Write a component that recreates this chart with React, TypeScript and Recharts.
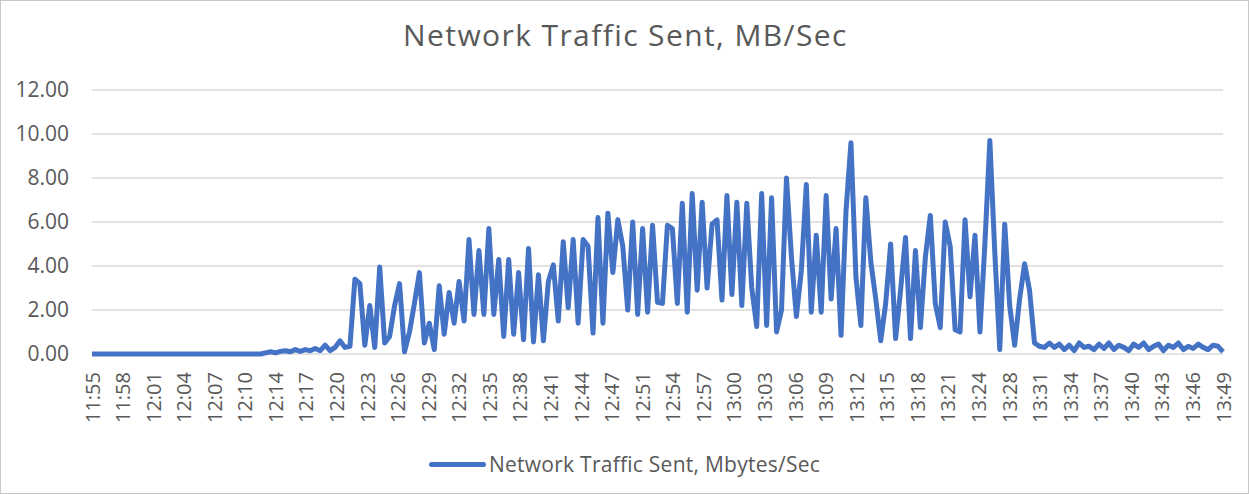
import React from 'react';
import { LineChart, Line, XAxis, YAxis, CartesianGrid, Legend } from 'recharts';

// category labels shown under the axis (38 of them, evenly spread over the samples)
const timeLabels = [
    '11:55', '11:58', '12:01', '12:04', '12:07', '12:10', '12:14', '12:17', '12:20', '12:23',
    '12:26', '12:29', '12:32', '12:35', '12:38', '12:41', '12:44', '12:47', '12:51', '12:54',
    '12:57', '13:00', '13:03', '13:06', '13:09', '13:12', '13:15', '13:18', '13:21', '13:24',
    '13:28', '13:31', '13:34', '13:37', '13:40', '13:43', '13:46', '13:49',
];

// MB/sec
const idleValues = [
    0, 0, 0, 0, 0, 0, 0, 0, 0, 0, 0, 0, 0, 0, 0, 0, 0, 0, 0, 0,
    0, 0, 0, 0, 0, 0, 0, 0, 0, 0, 0, 0, 0, 0, 0,
];
const rampValues = [
    0.05, 0.1, 0.05, 0.12, 0.15, 0.1, 0.2, 0.12, 0.2, 0.15, 0.25, 0.15, 0.4, 0.15, 0.3, 0.6, 0.3, 0.35,
    3.4, 3.2, 0.4, 2.2, 0.3, 3.95, 0.5, 0.8, 2.2, 3.2, 0.1, 1.0, 2.3, 3.7, 0.5, 1.4, 0.2, 3.1,
    0.9, 2.8, 1.4, 3.3, 1.5, 5.2, 1.8, 4.7, 1.8, 5.7, 1.8, 4.3, 0.8, 4.3, 0.9, 3.7, 0.65, 4.8,
    0.55, 3.6, 0.6, 3.3, 4.05, 1.5, 5.1, 2.1, 5.2, 1.4, 5.2, 4.9, 0.95, 6.2, 1.4, 6.4, 3.7, 6.1,
    4.9, 2.0, 6.0, 1.8, 5.7, 1.9, 5.85, 2.35, 2.3, 5.85, 5.7, 2.3,
];
const peakValues = [
    6.85, 1.9, 7.3, 2.9, 6.9, 3.0, 5.9, 6.1, 2.45, 7.2, 2.7, 6.9, 2.2, 6.85, 3.0, 1.25, 7.3, 1.3,
    7.1, 1.0, 2.0, 8.0, 4.4, 1.7, 3.8, 7.7, 1.9, 5.4, 1.9, 7.2, 2.5, 5.7, 0.85, 6.5, 9.6, 3.5,
    1.3, 7.1, 4.2, 2.5, 0.6, 2.3, 5.0, 0.7, 2.9, 5.3, 0.7, 4.7, 1.2, 4.4, 6.3, 2.3, 1.2, 6.0,
    4.9, 1.1, 1.0, 6.1, 2.6, 5.4, 1.0, 5.0, 9.7, 4.6, 0.2, 5.9, 2.2, 0.4, 2.5, 4.1, 2.9, 0.5,
    0.35, 0.3,
];
const tailValues = [
    0.5, 0.3, 0.45, 0.2, 0.4, 0.15, 0.5, 0.3, 0.35, 0.2, 0.45, 0.25, 0.5, 0.2, 0.4, 0.3, 0.15, 0.45,
    0.3, 0.5, 0.2, 0.35, 0.45, 0.15, 0.4, 0.3, 0.5, 0.2, 0.35, 0.25, 0.45, 0.3, 0.2, 0.4, 0.35, 0.1,
];
const values = [...idleValues, ...rampValues, ...peakValues, ...tailValues];

const yTicks = [0, 2, 4, 6, 8, 10, 12];

const data = values.map((v, i) => ({ i, sent: v }));
const lastIndex = values.length - 1;
const step = lastIndex / (timeLabels.length - 1);
const xTicks = timeLabels.map((_, k) => k * step);

const font = '"Open Sans", sans-serif';
const textColor = '#595959';

const TimeTick = (props: any) => {
    const { x, y, payload } = props;
    const label = timeLabels[Math.round(payload.value / step)];
    return (
        <g transform={`translate(${x},${y})`}>
            <text transform="rotate(-90)" textAnchor="end" dominantBaseline="central" fill={textColor} fontSize={20} fontFamily={font}>
                {label}
            </text>
        </g>
    );
};

const renderLegend = (props: any) => {
    const item = (props.payload || [])[0];
    return (
        <div style={{ display: 'flex', justifyContent: 'center', alignItems: 'center', fontFamily: font, fontSize: 21, letterSpacing: 0.25, color: textColor }}>
            <span style={{ display: 'inline-block', width: 57, height: 5, borderRadius: 3, background: item ? item.color : '#4472C4', marginRight: 3 }} />
            <span>{item ? item.value : ''}</span>
        </div>
    );
};

const App = () => {
    return (
        <div style={{ position: 'absolute', top: 0, left: 0, width: 1249, height: 494, background: '#fff', boxSizing: 'border-box', border: '1px solid #c8c8c8' }}>
            <div style={{ position: 'absolute', top: 13, left: 0, width: 1249, textAlign: 'center', fontFamily: font, fontSize: 30, letterSpacing: 1.4, color: textColor }}>
                Network Traffic Sent, MB/Sec
            </div>
            <div style={{ position: 'absolute', top: -1, left: -1 }}>
                <LineChart width={1249} height={494} data={data} margin={{ top: 90, right: 26, left: 12, bottom: 40 }}>
                    <CartesianGrid vertical={false} stroke="#d9d9d9" strokeWidth={1.5} />
                    <XAxis
                        dataKey="i"
                        type="number"
                        domain={[0, lastIndex]}
                        ticks={xTicks}
                        interval={0}
                        tick={<TimeTick />}
                        tickLine={false}
                        axisLine={false}
                        tickMargin={12}
                        height={70}
                    />
                    <YAxis
                        domain={[0, 12]}
                        ticks={yTicks}
                        tickFormatter={(v: number) => v.toFixed(2)}
                        tick={{ fill: textColor, fontSize: 21, fontFamily: font }}
                        tickLine={false}
                        axisLine={false}
                        tickMargin={17}
                        width={80}
                    />
                    <Legend content={renderLegend} height={30} wrapperStyle={{ top: 450, bottom: 'auto', left: 0, width: 1249 }} />
                    <Line
                        type="linear"
                        dataKey="sent"
                        name="Network Traffic Sent, Mbytes/Sec"
                        stroke="#4472C4"
                        strokeWidth={5}
                        strokeLinejoin="round"
                        dot={false}
                        isAnimationActive={false}
                    />
                </LineChart>
            </div>
        </div>
    );
};

export default App;
